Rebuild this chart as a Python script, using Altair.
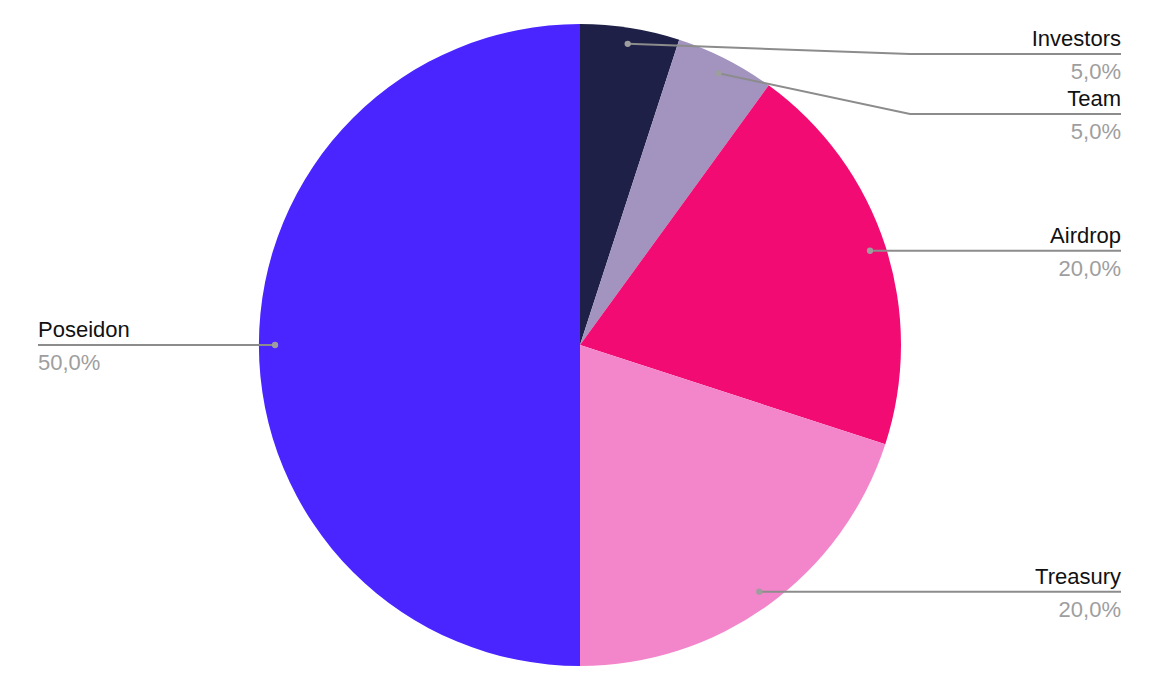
import altair as alt
import pandas as pd
import numpy as np

# ---------------- data ----------------
categories = ["Investors", "Team", "Airdrop", "Treasury", "Poseidon"]
values = [5.0, 5.0, 20.0, 20.0, 50.0]
colors = ["#1f2047", "#a294bf", "#f20b72", "#f386cb", "#4a25ff"]

# ---------------- layout (view pixel coordinates) ----------------
M = 8                      # page margin
CX, CY = 580 - M, 345 - M  # pie centre
R = 321                    # pie radius
DOT_FRAC = 0.95            # leader dot position as fraction of radius
RIGHT_X = 1121 - M         # right label anchor
LEFT_X = 38 - M            # left label anchor
ELBOW_X = 910 - M          # elbow of bent leader lines
label_line_y = {"Investors": 54 - M, "Team": 114 - M}  # de-collided labels

total = sum(values)
cum = np.cumsum([0] + values)
rows, line_rows = [], []
for i, (c, v) in enumerate(zip(categories, values)):
    mid = (cum[i] + v / 2) / total * 2 * np.pi
    dx = CX + DOT_FRAC * R * np.sin(mid)
    dy = CY - DOT_FRAC * R * np.cos(mid)
    right = np.sin(mid) >= 0
    ly = label_line_y.get(c, dy)
    lx = RIGHT_X if right else LEFT_X
    rows.append(dict(cat=c, val=v, idx=i, dx=dx, dy=dy, lx=lx, ly=ly,
                     align="right" if right else "left",
                     pct=f"{v / total * 100:.1f}%".replace(".", ",")))
    pts = [(dx, dy)]
    if c in label_line_y:
        pts.append((ELBOW_X, ly))
    pts.append((lx, ly))
    for k, (px, py) in enumerate(pts):
        line_rows.append(dict(cat=c, k=k, px=px, py=py))

df = pd.DataFrame(rows)
dfl = pd.DataFrame(line_rows)

FONT = "Liberation Sans"

pie = alt.Chart(df).mark_arc(radius=R, stroke=None).encode(
    theta=alt.Theta("val:Q", stack=True),
    order=alt.Order("idx:Q"),
    color=alt.Color("cat:N", scale=alt.Scale(domain=categories, range=colors), legend=None),
    x=alt.value(CX), y=alt.value(CY),
)

lines = alt.Chart(dfl).mark_line(color="#8c8c8c", strokeWidth=2).encode(
    x=alt.X("px:Q", scale=None), y=alt.Y("py:Q", scale=None),
    detail="cat:N", order="k:Q",
)

dots = alt.Chart(df).mark_circle(color="#9e9e9e", size=40, opacity=1).encode(
    x=alt.X("dx:Q", scale=None), y=alt.Y("dy:Q", scale=None),
)

def labels(align):
    sub = df[df["align"] == align]
    base = alt.Chart(sub).encode(x=alt.X("lx:Q", scale=None), y=alt.Y("ly:Q", scale=None))
    name = base.mark_text(align=align, baseline="alphabetic", dy=-8, font=FONT,
                          fontSize=22, color="#111111").encode(text="cat:N")
    pct = base.mark_text(align=align, baseline="alphabetic", dy=25, font=FONT,
                         fontSize=22, color="#9e9e9e").encode(text="pct:N")
    return name + pct

chart = alt.layer(pie, lines, dots, labels("right"), labels("left")).properties(
    width=1139, height=666, padding=0
).configure_view(stroke=None)

chart.save("out.html", embed_options={"renderer": "svg", "actions": False})
